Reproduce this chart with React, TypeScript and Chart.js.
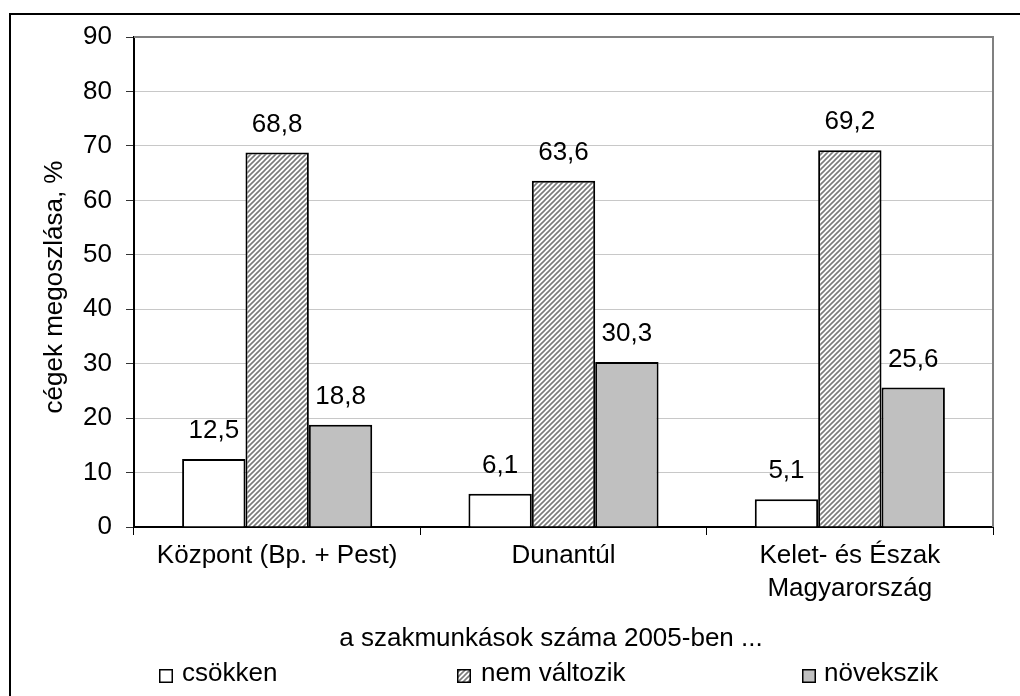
import React, { useEffect, useRef } from "react";
import { Chart, registerables } from "chart.js";

Chart.register(...registerables);

const categories: (string | string[])[] = [
  "Központ (Bp. + Pest)",
  "Dunantúl",
  ["Kelet- és Észak", "Magyarország"],
];
const seriesNames = ["csökken", "nem változik", "növekszik"];
const csokken = [12.5, 6.1, 5.1];
const nemValtozik = [68.8, 63.6, 69.2];
const novekszik = [18.8, 30.3, 25.6];
const yTitle = "cégek megoszlása, %";
const xTitle = "a szakmunkások száma 2005-ben ...";

const FONT = "'Liberation Sans', Arial, sans-serif";
const FS = 26;

function makeHatch(): CanvasPattern | string {
  const c = document.createElement("canvas");
  const s = 5;
  c.width = s;
  c.height = s;
  const g = c.getContext("2d");
  if (!g) return "#ccc";
  g.fillStyle = "#ffffff";
  g.fillRect(0, 0, s, s);
  g.strokeStyle = "#7a7a7a";
  g.lineWidth = 1.6;
  g.beginPath();
  g.moveTo(-1, s + 1);
  g.lineTo(s + 1, -1);
  g.moveTo(-1, 1);
  g.lineTo(1, -1);
  g.moveTo(s - 1, s + 1);
  g.lineTo(s + 1, s - 1);
  g.stroke();
  const p = g.createPattern(c, "repeat");
  return p || "#ccc";
}

export default function App() {
  const ref = useRef<HTMLCanvasElement | null>(null);

  useEffect(() => {
    const canvas = ref.current;
    if (!canvas) return;
    const hatch = makeHatch();
    const fills: any[] = ["#ffffff", hatch, "#c0c0c0"];

    const decor = {
      id: "decor",
      beforeDraw(chart: any) {
        const ctx = chart.ctx;
        ctx.save();
        ctx.fillStyle = "#ffffff";
        ctx.fillRect(0, 0, chart.width, chart.height);
        ctx.fillStyle = "#000000";
        ctx.fillRect(9, 13, 2, chart.height);
        ctx.fillRect(9, 13, chart.width, 2);
        ctx.restore();
      },
      afterDraw(chart: any) {
        const ctx = chart.ctx;
        const a = chart.chartArea;
        ctx.save();
        ctx.strokeStyle = "#808080";
        ctx.lineWidth = 2;
        ctx.beginPath();
        ctx.moveTo(a.left, a.top);
        ctx.lineTo(a.right, a.top);
        ctx.lineTo(a.right, a.bottom);
        ctx.stroke();
        ctx.fillStyle = "#000";
        ctx.font = `${FS}px ${FONT}`;
        ctx.textAlign = "center";
        ctx.textBaseline = "middle";
        ctx.save();
        ctx.translate(55, 287);
        ctx.rotate(-Math.PI / 2);
        ctx.fillText(yTitle, 0, 0);
        ctx.restore();
        ctx.fillText(xTitle, 551, 639);
        const boxX = [159, 457, 802];
        const textX = [182, 481, 824];
        chart.data.datasets.forEach((ds: any, i: number) => {
          ctx.fillStyle = fills[i];
          ctx.fillRect(boxX[i], 669, 14, 14);
          ctx.strokeStyle = "#000";
          ctx.lineWidth = 1.5;
          ctx.strokeRect(boxX[i] + 0.75, 669.75, 12.5, 12.5);
          ctx.fillStyle = "#000";
          ctx.textAlign = "left";
          ctx.fillText(ds.label, textX[i], 674);
        });
        ctx.restore();
      },
      afterDatasetsDraw(chart: any) {
        const ctx = chart.ctx;
        ctx.save();
        ctx.fillStyle = "#000";
        ctx.font = `${FS}px ${FONT}`;
        ctx.textAlign = "center";
        ctx.textBaseline = "middle";
        chart.data.datasets.forEach((ds: any, i: number) => {
          const meta = chart.getDatasetMeta(i);
          meta.data.forEach((el: any, j: number) => {
            const v = ds.data[j] as number;
            ctx.fillText(v.toFixed(1).replace(".", ","), el.x, el.y - 28);
          });
        });
        ctx.restore();
      },
    };

    const mk = (label: string, data: number[], i: number) => ({
      label,
      data,
      backgroundColor: fills[i],
      borderColor: "#000000",
      borderWidth: 2,
      borderSkipped: "bottom" as const,
      categoryPercentage: 0.664,
      barPercentage: 1,
    });

    const chart = new Chart(canvas, {
      type: "bar",
      data: {
        labels: categories,
        datasets: [
          mk(seriesNames[0], csokken, 0),
          mk(seriesNames[1], nemValtozik, 1),
          mk(seriesNames[2], novekszik, 2),
        ],
      },
      options: {
        animation: false,
        responsive: false,
        maintainAspectRatio: false,
        devicePixelRatio: 1,
        layout: { padding: { left: 0, top: 37, right: 27, bottom: 0 } },
        plugins: {
          legend: { display: false },
          tooltip: { enabled: false },
          title: { display: false },
        },
        scales: {
          x: {
            offset: true,
            grid: {
              display: true,
              drawOnChartArea: false,
              drawTicks: true,
              tickLength: 8,
              tickColor: "#000000",
              tickWidth: 1,
              offset: true,
            },
            border: { display: true, color: "#000000", width: 2 },
            ticks: {
              color: "#000000",
              font: { family: FONT, size: FS, lineHeight: 1.27 },
              padding: 4,
              maxRotation: 0,
              autoSkip: false,
            },
            afterFit: (s: any) => {
              s.height = 169;
            },
          },
          y: {
            min: 0,
            max: 90,
            ticks: {
              stepSize: 10,
              color: "#000000",
              font: { family: FONT, size: FS },
              padding: 14,
            },
            grid: {
              color: "#c8c8c8",
              lineWidth: 1,
              tickLength: 8,
              tickColor: "#333333",
              drawTicks: true,
            },
            border: { display: true, color: "#000000", width: 2 },
            afterFit: (s: any) => {
              s.width = 134;
            },
          },
        },
      },
      plugins: [decor],
    });
    return () => chart.destroy();
  }, []);

  return (
    <div style={{ position: "fixed", left: 0, top: 0, width: 1020, height: 696, background: "#fff" }}>
      <canvas ref={ref} width={1020} height={696} style={{ width: 1020, height: 696, display: "block" }} />
    </div>
  );
}
